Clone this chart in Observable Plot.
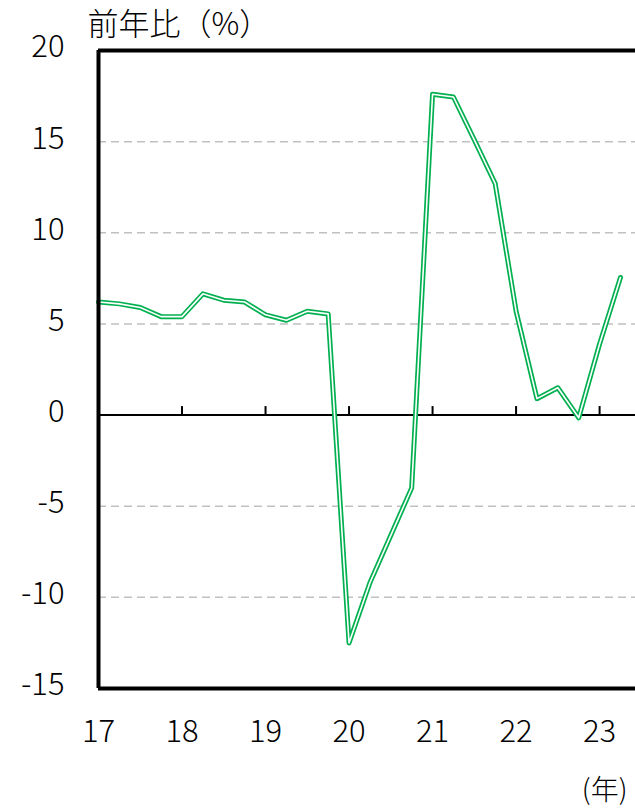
<!DOCTYPE html>
<html><head><meta charset="utf-8">
<script src="https://cdn.jsdelivr.net/npm/d3@7"></script>
<script src="https://cdn.jsdelivr.net/npm/@observablehq/plot@0.6"></script>
<style>html,body{margin:0;padding:0;background:#fff;} svg{display:block}</style>
</head><body><div id="chart"></div>
<script>
// Quarterly periods (year, 2-digit, decimal quarters)
const periods = [17, 17.25, 17.5, 17.75, 18, 18.25, 18.5, 18.75, 19, 19.25, 19.5, 19.75,
                 20, 20.25, 20.5, 20.75, 21, 21.25, 21.5, 21.75, 22, 22.25, 22.5, 22.75, 23, 23.25];
// Year-on-year change (%)
const values = [6.2, 6.1, 5.9, 5.4, 5.4, 6.65, 6.3, 6.2, 5.5, 5.2, 5.7, 5.55,
                -12.5, -9.2, -6.6, -4.0, 17.6, 17.45, 15.1, 12.7, 5.7, 0.9, 1.5, -0.15, 3.9, 7.55];
const yTicks = [-15, -10, -5, 0, 5, 10, 15, 20];
const gridValues = [-10, -5, 5, 10, 15];
const xTicks = [17, 18, 19, 20, 21, 22, 23];
const xInnerTicks = [18, 19, 20, 21, 22, 23];
const yTitle = "前年比（%）";
const xTitle = "(年)";

const data = periods.map((p, i) => ({x: p, y: values[i]}));
const tickSymbol = {draw(ctx) { ctx.moveTo(0, 0); ctx.lineTo(0, -9); }};
const green = "#00b050";
const font = "'Noto Sans CJK JP', 'Noto Sans', sans-serif";

const chart = Plot.plot({
  width: 635,
  height: 812,
  marginLeft: 98,
  marginRight: 0,
  marginTop: 50,
  marginBottom: 124,
  style: {fontFamily: font, fontSize: "30px", color: "#000", background: "#fff"},
  x: {domain: [17, 23.43]},
  y: {domain: [-15, 20]},
  marks: [
    Plot.ruleY(gridValues, {stroke: "#c0c0c0", strokeWidth: 1.5, strokeDasharray: "8,5"}),
    Plot.ruleY([0], {stroke: "#000", strokeWidth: 2}),
    Plot.dot(xInnerTicks, {x: d => d, y: 0, symbol: tickSymbol, stroke: "#000", strokeWidth: 2, r: 5}),
    Plot.line(data, {x: "x", y: "y", stroke: green, strokeWidth: 5, strokeLinejoin: "round"}),
    Plot.line(data, {x: "x", y: "y", stroke: "#fff", strokeWidth: 1.6, strokeLinejoin: "round"}),
    Plot.ruleX([17], {stroke: "#000", strokeWidth: 4}),
    Plot.ruleY([20, -15], {stroke: "#000", strokeWidth: 4}),
    Plot.axisY({ticks: yTicks, tickSize: 0, tickPadding: 34, fontSize: 31, fontWeight: 300, dy: -3, label: null, tickFormat: d => String(d)}),
    Plot.axisX({ticks: xTicks, tickSize: 0, tickPadding: 31, fontSize: 31, fontWeight: 300, label: null, tickFormat: d => String(d)}),
    Plot.text([yTitle], {frameAnchor: "top-left", dx: -11, dy: -25.5, text: d => d, textAnchor: "start", lineAnchor: "middle", fontSize: 31, fontWeight: 300}),
    Plot.text([xTitle], {frameAnchor: "bottom-right", dx: -8, dy: 103, text: d => d, textAnchor: "end", lineAnchor: "middle", fontSize: 28, fontWeight: 300})
  ]
});
document.getElementById("chart").appendChild(chart);
</script>
</body></html>
